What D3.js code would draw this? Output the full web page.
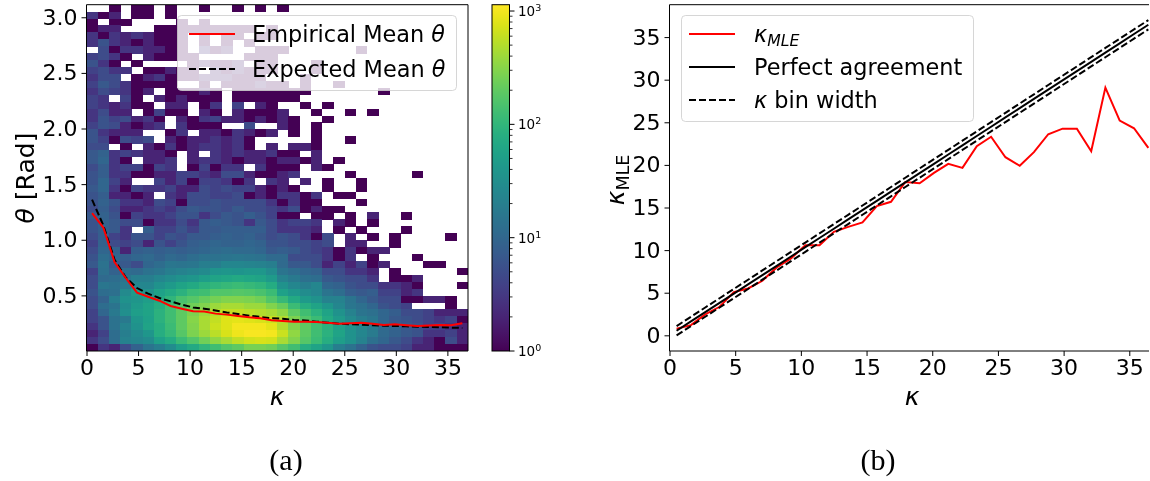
<!DOCTYPE html>
<html><head><meta charset="utf-8">
<script src="https://cdn.jsdelivr.net/npm/d3@7"></script>
<style>
html,body{margin:0;padding:0;background:#fff;overflow:hidden}
svg{display:block;filter:blur(0.3px)}
text{font-family:"DejaVu Sans",sans-serif;fill:#000}
</style></head><body>
<svg id="c" width="1150" height="481"></svg>
<script>
// Counts per 2-D bin, top row (largest theta) first; omitted trailing cells are empty.
const counts = [
[0,0,1,0,1,1,0,1,0,0,1,0,0,1,0,1,0,1],
[3,1,2,0,1,1,0,1],
[1,0,1,1,0,0,0,0,1,0,1],
[1,2,2,0,0,0,1,1,1,1,1,1,1,1,1,0,1],
[3,1,3,2,3,2,1,1,1,0,1,0,1,1,0,1,1],
[3,6,3,2,1,2,1,1,1,0,1,0,1,0,1],
[0,5,1,3,3,2,2,1,1,0,3,1,2,0,0,1,1,1,0,0,0,0,0,0,1],
[4,5,3,1,0,2,1,1,1,1,0,0,0,0,1,1,1],
[6,3,1,0,1,0,0,0,0,1,2,1,1,2,0,1,1,0,0,0,1],
[4,5,3,3,0,1,1,2,1,1,0,2,1,2,1,1,1,0,0,0,1],
[3,5,5,0,1,2,3,1,1,1,2,2,2,1,1,1,0,0,0,1],
[4,7,5,3,1,1,1,1,0,0,1,0,1,1,1,2,1,1,0,1,0,0,1],
[3,5,4,3,1,2,0,1,1,1,2,1,0,1,1,1,1,1,1,1,0,0,0,0,0,0,1],
[4,3,0,4,1,0,2,1,2,1,1,1,0,1,1,1,1,1,1],
[4,3,2,3,1,1,0,2,2,0,1,3,0,4,0,2,1,0,0,1,0,1],
[3,5,2,2,0,1,4,1,1,0,2,1,0,2,1,1,1,2,0,0,1,0,0,1,0,1],
[3,6,4,5,2,3,1,0,2,1,3,4,2,2,1,2,1,2,1,0,0,1],
[4,6,5,2,1,2,3,0,3,1,1,1,0,0,5,0,0,2,1,0,1],
[6,3,2,2,2,0,0,1,3,0,2,2,1,3,2,1,2,0,1,0,1],
[6,4,1,5,4,5,0,2,1,2,2,3,2,3,1,0,0,0,0,0,1,0,0,1],
[5,5,0,1,0,2,1,3,1,2,3,3,2,3,1,0,2,0,2,2,1],
[7,9,3,4,3,2,2,1,0,2,0,3,2,3,2,2,3,1,1,0,2],
[7,10,3,1,0,2,2,3,0,2,3,3,2,1,2,2,1,2,2,1,2,0,1],
[5,8,3,4,4,1,4,3,0,1,4,1,3,3,0,3,1,1,1,0,2,1],
[6,8,3,3,1,1,2,2,4,4,3,2,5,5,2,1,1,2,3,0,0,0,0,1,0,0,0,0,0,1],
[6,10,4,2,0,0,4,2,4,1,4,4,3,1,3,0,3,2,0,2,0,1,0,0,1],
[7,10,3,1,4,3,3,4,2,2,5,4,5,4,4,2,1,2,1,0,0,1,0,0,1],
[6,8,2,2,1,2,0,3,2,5,5,4,4,5,1,2,1,3,3,1,3,0,1,1],
[6,9,6,3,3,2,5,4,1,5,5,6,5,5,5,5,3,1,3,1,1,0,0,0,1],
[5,8,5,2,2,3,4,3,5,7,6,6,5,7,5,5,4,3,5,1,2,1,1],
[7,9,6,1,4,3,3,4,6,6,3,5,7,6,8,6,4,1,1,0,1,1,0,1,0,2,0,0,1],
[6,9,7,5,5,1,3,3,5,3,7,8,7,6,3,7,5,3,4,4,3,0,2,1,0,1],
[6,8,7,3,0,8,4,4,6,4,7,7,8,8,8,8,5,3,3,3,2,0,1,0,1,0,0,0,1],
[5,8,4,3,6,6,4,6,5,7,7,8,9,8,9,7,5,6,5,3,1,5,0,2,0,1,0,1,0,0,0,0,1],
[4,9,5,4,5,2,6,4,6,8,9,10,9,9,10,9,6,6,5,5,4,5,0,2,2,0,0,1],
[5,10,9,2,8,9,8,9,8,9,10,11,12,11,11,10,7,8,7,5,4,3,1,3,1,2,2],
[6,12,10,8,10,11,9,11,10,12,14,14,15,16,15,14,11,11,5,5,5,3,1,3,0,1,0,0,0,1],
[7,14,7,7,5,10,12,16,15,16,20,20,25,25,24,22,20,11,7,7,5,2,4,2,4,1,2,0,0,0,1,1],
[4,13,9,12,11,14,16,20,22,25,28,38,40,38,42,42,30,15,12,10,9,5,5,3,3,2,0,1,0,0,0,0,0,1],
[5,11,12,15,20,20,25,30,35,40,50,60,65,70,65,60,45,22,17,13,12,7,6,5,5,3,0,1,1,2],
[5,16,14,17,25,25,35,45,60,70,90,100,110,120,110,100,75,35,25,20,25,10,9,6,5,5,3,3,2,1,0,0,0,1],
[6,12,13,28,45,35,55,70,90,120,130,170,170,180,170,150,120,55,40,30,25,15,12,8,7,8,4,4,2,3],
[5,9,20,35,40,50,70,100,150,180,220,260,300,300,280,250,170,110,70,45,35,22,22,15,10,7,5,5,1,1,2,2,1],
[5,12,15,30,45,60,80,130,180,250,300,400,450,450,400,400,300,220,120,80,60,40,25,16,13,10,6,5,4,0,0,0,1],
[4,10,17,32,50,60,90,130,200,280,400,500,600,600,550,500,450,350,200,130,90,60,35,22,15,13,10,8,5,5,4,2,2,2],
[4,6,14,17,40,55,90,130,200,320,450,600,800,850,800,750,650,500,280,170,120,70,45,28,20,16,10,7,6,5,4,3,4,1],
[3,6,14,22,35,60,80,120,200,300,450,650,800,1000,1000,1000,850,500,300,200,130,90,55,35,25,17,11,10,7,6,4,4,3,2],
[2,4,12,20,28,40,80,110,180,280,400,550,750,950,1050,1050,1000,650,350,200,130,90,60,35,25,18,11,9,7,6,3,3,4,2],
[3,5,12,22,25,30,55,75,120,170,250,350,450,600,700,750,700,450,300,180,120,80,50,35,22,13,10,7,5,3,2,1,5,2],
[1,3,2,5,9,15,20,30,50,70,100,130,170,200,270,270,250,180,130,80,60,40,20,14,9,6,5,5,4,2,2,1,1,1]
];
const binWidth = 1.088;
const thetaBinHeight = 0.06226;
const kappaCenters = [0.54,1.63,2.72,3.81,4.9,5.98,7.07,8.16,9.25,10.34,11.42,12.51,13.6,14.69,15.78,16.86,17.95,19.04,20.13,21.22,22.3,23.39,24.48,25.57,26.66,27.74,28.83,29.92,31.01,32.1,33.18,34.27,35.36,36.45];
const empiricalTheta = [1.24,1.11,0.80,0.656,0.524,0.488,0.452,0.405,0.38,0.357,0.354,0.336,0.327,0.315,0.303,0.294,0.276,0.27,0.264,0.262,0.26,0.253,0.246,0.25,0.255,0.244,0.234,0.24,0.232,0.225,0.23,0.234,0.232,0.25];
const expectedTheta = [1.36,1.13,0.82,0.66,0.566,0.515,0.476,0.446,0.417,0.392,0.38,0.365,0.347,0.333,0.318,0.306,0.294,0.29,0.279,0.275,0.264,0.255,0.246,0.24,0.237,0.231,0.228,0.225,0.222,0.219,0.216,0.213,0.21,0.207];
const kappaMLE = [0.78,1.2,2.45,3.35,5.08,5.5,6.4,7.97,9.03,10.58,10.58,12.15,12.73,13.24,15.16,15.67,18.0,17.85,19.07,20.12,19.65,22.2,23.3,20.9,19.9,21.5,23.6,24.25,24.25,21.6,29.07,25.2,24.3,22.0];
const xTicksA = [0,5,10,15,20,25,30,35];
const yTicksA = [0.5,1.0,1.5,2.0,2.5,3.0];
const xTicksB = [0,5,10,15,20,25,30,35];
const yTicksB = [0,5,10,15,20,25,30,35];
const legendA = ["Empirical Mean ","Expected Mean "];
const cbDecades = [0,1,2,3];

const svg = d3.select("#c");
const TICK = 22, LAB = 25, LEG = 22.4, DASH = "7,3";
const xA = d3.scaleLinear().domain([0,37]).range([86.5,468]);
const yA = d3.scaleLinear().domain([0,3.113]).range([351,4.7]);
const xB = d3.scaleLinear().domain([0,36.5]).range([669.5,1149]);
const yB = d3.scaleLinear().domain([-1.84,38.8]).range([351,4.7]);
const color = d3.scaleSequentialLog(d3.interpolateViridis).domain([1,1137]);

// heatmap
const cells = [];
counts.forEach((row,r)=>row.forEach((v,c)=>{ if(v>0) cells.push({r,c,v}); }));
const nRows = counts.length;
svg.append("g").attr("shape-rendering","crispEdges").selectAll("rect").data(cells).join("rect")
  .attr("x",d=>xA(d.c*binWidth))
  .attr("width",d=>xA((d.c+1)*binWidth)-xA(d.c*binWidth)+0.4)
  .attr("y",d=>yA((nRows-d.r)*thetaBinHeight))
  .attr("height",d=>yA((nRows-d.r-1)*thetaBinHeight)-yA((nRows-d.r)*thetaBinHeight)+0.4)
  .attr("fill",d=>color(d.v));

function styleAxis(g,size){
  g.selectAll("text").style("font-size",size+"px").attr("fill","#000");
  g.selectAll("line").attr("stroke","#000").attr("stroke-width",1);
  g.select(".domain").remove();
}
function axes(x,y,xt,yt,yfmt){
  svg.append("g").attr("transform",`translate(0,${y.range()[0]})`)
    .call(d3.axisBottom(x).tickValues(xt).tickSize(5).tickPadding(3).tickFormat(d3.format("d")))
    .call(styleAxis,TICK);
  svg.append("g").attr("transform",`translate(${x.range()[0]},0)`)
    .call(d3.axisLeft(y).tickValues(yt).tickSize(5).tickPadding(4).tickFormat(yfmt))
    .call(styleAxis,TICK);
}
function frame(x,y,right){
  const [x0,x1]=x.range(), [y0,y1]=y.range();
  const p = d3.path();
  p.moveTo(x0,y1); p.lineTo(x0,y0); p.lineTo(x1,y0);
  if(right){ p.lineTo(x1,y1);} else { p.moveTo(x1,y0);}
  p.moveTo(x0,y1); p.lineTo(x1,y1);
  svg.append("path").attr("d",p.toString()).attr("fill","none").attr("stroke","#000").attr("stroke-width",1);
}

// panel a lines
const lineA = d3.line().x(d=>xA(d[0])).y(d=>yA(d[1]));
const pairs = (a,b)=>a.map((v,i)=>[v,b[i]]);
svg.append("path").attr("d",lineA(pairs(kappaCenters,expectedTheta))).attr("fill","none").attr("stroke","#000").attr("stroke-width",2).attr("stroke-dasharray",DASH);
svg.append("path").attr("d",lineA(pairs(kappaCenters,empiricalTheta))).attr("fill","none").attr("stroke","#f00").attr("stroke-width",2);
axes(xA,yA,xTicksA,yTicksA,d3.format(".1f"));
frame(xA,yA,true);

// panel a legend
function legendBox(x,y,w,h){
  svg.append("rect").attr("x",x).attr("y",y).attr("width",w).attr("height",h).attr("rx",4)
    .attr("fill","#fff").attr("fill-opacity",0.8).attr("stroke","#ccc").attr("stroke-opacity",0.8).attr("stroke-width",1);
}
legendBox(177.5,15.5,279,75);
svg.append("line").attr("x1",189).attr("x2",235).attr("y1",34).attr("y2",34).attr("stroke","#f00").attr("stroke-width",2);
svg.append("line").attr("x1",189).attr("x2",235).attr("y1",69).attr("y2",69).attr("stroke","#000").attr("stroke-width",2).attr("stroke-dasharray",DASH);
legendA.forEach((t,i)=>{
  const tx = svg.append("text").attr("x",252).attr("y",42+i*34.5).style("font-size",LEG+"px").text(t);
  tx.append("tspan").style("font-style","italic").text("θ");
});

// axis labels a
svg.append("text").attr("x",277).attr("y",405).attr("text-anchor","middle").style("font-size",LAB+"px").style("font-style","italic").text("κ");
const tl = svg.append("text").attr("transform","translate(34,178) rotate(-90)").attr("text-anchor","middle").style("font-size",LAB+"px");
tl.append("tspan").style("font-style","italic").text("θ");
tl.append("tspan").text(" [Rad]");
svg.append("text").attr("x",286).attr("y",470).attr("text-anchor","middle").style("font-family","'Liberation Serif',serif").style("font-size","30px").text("(a)");

// colour bar
const yC = d3.scaleLog().domain([1,1137]).range([351,4.7]);
const defs = svg.append("defs");
const grad = defs.append("linearGradient").attr("id","cb").attr("x1",0).attr("x2",0).attr("y1",1).attr("y2",0);
d3.range(0,33).forEach(i=>grad.append("stop").attr("offset",i/32).attr("stop-color",d3.interpolateViridis(i/32)));
svg.append("rect").attr("x",492).attr("y",4.7).attr("width",17.5).attr("height",346.3).attr("fill","url(#cb)").attr("stroke","#000").attr("stroke-width",1);
const minor = [];
cbDecades.slice(0,3).forEach(d=>d3.range(2,10).forEach(m=>minor.push(m*Math.pow(10,d))));
svg.append("g").selectAll("line").data(minor).join("line").attr("x1",509.5).attr("x2",512.5).attr("y1",d=>yC(d)).attr("y2",d=>yC(d)).attr("stroke","#000").attr("stroke-width",0.8);
const cbg = svg.append("g").selectAll("g").data(cbDecades).join("g").attr("transform",d=>`translate(0,${yC(Math.pow(10,d))})`);
cbg.append("line").attr("x1",509.5).attr("x2",514.5).attr("stroke","#000");
const cbt = cbg.append("text").attr("x",518).attr("y",5).style("font-size","13.5px");
cbt.append("tspan").text("10");
cbt.append("tspan").attr("dy",-5).style("font-size","9.5px").text(d=>d);

// panel b
const lineB = d3.line().x(d=>xB(d[0])).y(d=>yB(d[1]));
svg.append("path").attr("d",lineB(pairs(kappaCenters,kappaMLE))).attr("fill","none").attr("stroke","#f00").attr("stroke-width",2);
svg.append("path").attr("d",lineB(pairs(kappaCenters,kappaCenters))).attr("fill","none").attr("stroke","#000").attr("stroke-width",2);
[1,-1].forEach(s=>svg.append("path").attr("d",lineB(kappaCenters.map(k=>[k,k+s*binWidth/2]))).attr("fill","none").attr("stroke","#000").attr("stroke-width",2).attr("stroke-dasharray",DASH));
axes(xB,yB,xTicksB,yTicksB,d3.format("d"));
frame(xB,yB,false);

legendBox(681.5,15.5,292,106);
[[34,"#f00",null],[67,"#000",null],[100,"#000",DASH]].forEach(([y,c,dash])=>{
  const l=svg.append("line").attr("x1",689).attr("x2",735).attr("y1",y).attr("y2",y).attr("stroke",c).attr("stroke-width",2);
  if(dash) l.attr("stroke-dasharray",dash);
});
const l1 = svg.append("text").attr("x",754).attr("y",42).style("font-size",LEG+"px");
l1.append("tspan").style("font-style","italic").text("κ");
l1.append("tspan").attr("dy",4).style("font-style","italic").style("font-size","15.7px").text("MLE");
svg.append("text").attr("x",754).attr("y",75).style("font-size",LEG+"px").text("Perfect agreement");
const l3 = svg.append("text").attr("x",754).attr("y",108).style("font-size",LEG+"px");
l3.append("tspan").style("font-style","italic").text("κ");
l3.append("tspan").text(" bin width");

svg.append("text").attr("x",912).attr("y",405).attr("text-anchor","middle").style("font-size",LAB+"px").style("font-style","italic").text("κ");
const ml = svg.append("text").attr("transform","translate(624,180) rotate(-90)").attr("text-anchor","middle").style("font-size",LAB+"px");
ml.append("tspan").style("font-style","italic").text("κ");
ml.append("tspan").attr("dy",5).style("font-size","17.5px").text("MLE");
svg.append("text").attr("x",878).attr("y",470).attr("text-anchor","middle").style("font-family","'Liberation Serif',serif").style("font-size","30px").text("(b)");
</script>
</body></html>
